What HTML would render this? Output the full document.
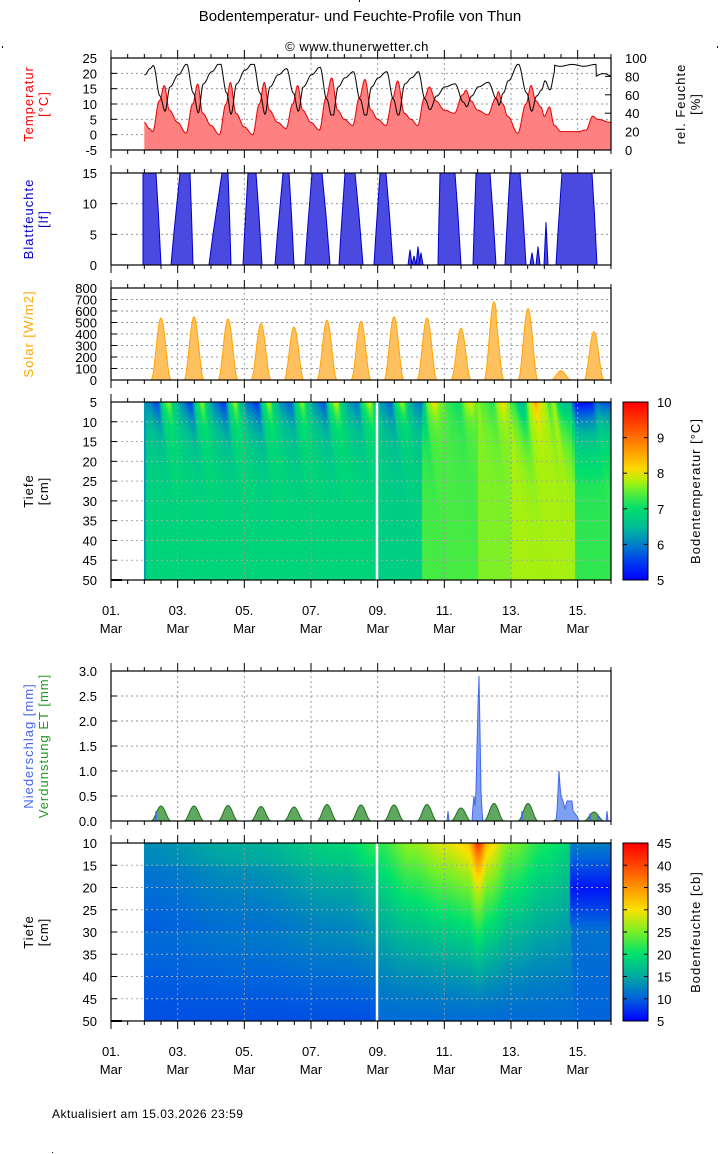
<!DOCTYPE html>
<html><head><meta charset="utf-8"><style>
body{margin:0;background:#fff;width:720px;height:1154px;position:relative;overflow:hidden;font-family:"Liberation Sans",sans-serif}
canvas{position:absolute}
svg{position:absolute;left:0;top:0}
</style></head><body>
<canvas id="c1" width="467" height="178" style="left:144px;top:402px"></canvas>
<canvas id="c2" width="467" height="178" style="left:144px;top:843px"></canvas>
<canvas id="cb1" width="25" height="178" style="left:623px;top:402px"></canvas>
<canvas id="cb2" width="25" height="178" style="left:623px;top:843px"></canvas>
<svg id="s" width="720" height="1154" xmlns="http://www.w3.org/2000/svg" font-family="Liberation Sans, sans-serif"></svg>
<script>
var X0=111,X1=611,DW=500/15;
function dx(d){return X0+(d-1)*DW;}
function xd(x){return 1+(x-X0)/DW;}
var S='';
function txt(x,y,t,o){o=o||{};S+='<text x="'+x+'" y="'+y+'" font-size="'+(o.fs||12)+'" fill="'+(o.c||'#000')+'" text-anchor="'+(o.a||'start')+'"'+(o.r?' transform="rotate(-90 '+x+' '+y+')"':'')+(o.ls?' letter-spacing="'+o.ls+'"':'')+'>'+t+'</text>';}
function line(x1,y1,x2,y2,c,w,da){S+='<line x1="'+x1+'" y1="'+y1+'" x2="'+x2+'" y2="'+y2+'" stroke="'+(c||'#000')+'" stroke-width="'+(w||1)+'"'+(da?' stroke-dasharray="'+da+'"':'')+'/>';}
function poly(pts,fill,stroke){S+='<polygon points="'+pts.map(p=>p[0].toFixed(1)+','+p[1].toFixed(1)).join(' ')+'" fill="'+fill+'" stroke="'+(stroke||'none')+'" stroke-width="1"/>';}
function pline(pts,c){S+='<polyline points="'+pts.map(p=>p[0].toFixed(1)+','+p[1].toFixed(1)).join(' ')+'" fill="none" stroke="'+c+'" stroke-width="1"/>';}
function frame(t,b,grid){
 if(grid){for(var d=3;d<=15;d+=2){line(dx(d),t,dx(d),b,'#999',1,'2,3');}}
 for(var k=0;k<=30;k++){var x=X0+k*DW/2;var L=(k%4==0)?8:4;line(x,b,x,b+L);line(x,t,x,t-L);}
}
function box(t,b){S+='<rect x="'+X0+'" y="'+t+'" width="500" height="'+(b-t)+'" fill="none" stroke="#000" stroke-width="1.2"/>';}
function yaxis(t,b,vals,fmt){for(var i=0;i<vals.length;i++){var y=t+(b-t)*i/(vals.length-1);if(i>0&&i<vals.length-1)line(X0,y,X1,y,'#999',1,'2,3');line(X0,y,X0+6,y);txt(97,y+5,fmt(vals[i]),{a:'end',fs:13});}}
function interp(arr,d){if(d<=arr[0][0])return arr[0][1];for(var i=1;i<arr.length;i++){if(d<=arr[i][0]){var a=arr[i-1],b=arr[i];var f=(d-a[0])/(b[0]-a[0]);f=(1-Math.cos(Math.PI*f))/2;return a[1]+(b[1]-a[1])*f;}}return arr[arr.length-1][1];}
var TA=[[2.0,4],[2.15,2],[2.25,1],[2.45,11],[2.6,16],[2.75,8],[3.0,4],[3.25,0.5],[3.45,10],[3.6,16.5],[3.75,7],[4.0,3],[4.25,0],[4.45,10],[4.58,17],[4.75,7],[5.0,2.5],[5.25,0],[5.45,10],[5.6,17],[5.75,8],[6.0,4],[6.25,2],[6.45,10],[6.6,16],[6.75,8],[7.0,4],[7.25,1.5],[7.45,12],[7.62,18.5],[7.8,8],[8.0,5],[8.25,3],[8.45,12],[8.62,18],[8.8,8],[9.0,5],[9.25,3],[9.45,12],[9.6,17.5],[9.8,7],[10.0,5],[10.2,3],[10.4,12],[10.55,15.5],[10.75,11],[11.0,8],[11.3,7],[11.55,13],[11.65,14.5],[11.8,11],[12.0,8],[12.3,6.5],[12.55,12],[12.62,14],[12.75,10],[12.9,6],[13.2,0.5],[13.45,10],[13.6,16],[13.75,11],[13.9,9],[14.0,6],[14.15,9],[14.3,3],[14.5,1],[15.0,1],[15.25,1.5],[15.45,6],[15.6,5],[16.0,4]];
function Tair(d){return interp(TA,d);}
txt(360,21,'Bodentemperatur- und Feuchte-Profile von Thun',{a:'middle',fs:15});
txt(357,51,'© www.thunerwetter.ch',{a:'middle',fs:13,ls:0.5});
S+='<rect x="359" y="0" width="1" height="2" fill="#000"/><rect x="2" y="46" width="1" height="2" fill="#000"/><rect x="717" y="46" width="1" height="2" fill="#000"/><rect x="52" y="1152" width="1" height="1" fill="#000"/>';
// Panel A
var tA=58,bA=150;
frame(tA,bA,true);yaxis(tA,bA,[25,20,15,10,5,0,-5],v=>v);
for(var i=0;i<=5;i++){var y=bA-(bA-tA)*i/5;line(X1-6,y,X1,y);txt(625,y+5,i*20,{fs:13});}
var pts=[[dx(2),bA]],hp=[];
for(var d=2;d<=16.001;d+=0.01){var T=Tair(d);pts.push([dx(d),bA-(T+5)/30*92]);var H=Math.max(38,Math.min(93,95-3.3*Tair(d-0.02)));if(d>14.3&&d<15.55)H=92+Math.sin(d*9);if(d>=15.55)H=80+3*Math.sin((d-15.55)*7);hp.push([dx(d),bA-H/100*92]);}
pts.push([dx(16),bA]);poly(pts,'#ff8080');pline(pts.slice(1,-1),'#e00000');pline(hp,'#000');
box(tA,bA);
txt(33,104,'Temperatur',{r:1,a:'middle',c:'#ff0000',fs:13,ls:1});txt(48,104,'[°C]',{r:1,a:'middle',c:'#ff0000',fs:13,ls:1});
txt(685,104,'rel. Feuchte',{r:1,a:'middle',fs:13,ls:1});txt(700,104,'[%]',{r:1,a:'middle',fs:13,ls:1});
// Panel B
var tB=173,bB=265;
frame(tB,bB,true);yaxis(tB,bB,[15,10,5,0],v=>v);
var LB=[[143,143,156,161],[171,180,190,193],[209,222,228,231],[243,248,256,262],[275,283,289,294],[305,312,322,330],[339,345,355,363],[374,380,386,393],[438,440,455,461],[473,476,490,496],[505,510,520,526],[556,562,592,597]];
LB.forEach(b=>{poly([[b[0],bB],[b[0]+(b[1]-b[0])*0.3,bB-30],[b[1],tB],[b[2],tB],[b[2]+(b[3]-b[2])*0.5,bB-50],[b[3],bB]],'#4a4ae0','#0000cc');});
[[410,2.5],[414,1.5],[418,3],[421,2],[532,2],[538,3],[546,7]].forEach(p=>poly([[p[0]-2,bB],[p[0],bB-p[1]/15*92],[p[0]+2,bB]],'#4a4ae0','#0000cc'));
box(tB,bB);
txt(33,219,'Blattfeuchte',{r:1,a:'middle',c:'#0000cc',fs:13,ls:1});txt(48,219,'[lf]',{r:1,a:'middle',c:'#0000cc',fs:13,ls:1});
// Panel C
var tC=288,bC=380;
frame(tC,bC,true);yaxis(tC,bC,[800,700,600,500,400,300,200,100,0],v=>v);
var SC=[161,194,228,261,294,327,361,394,427,461,494,528,561,594],SH=[540,550,530,490,460,520,510,550,540,450,680,620,80,420];
SC.forEach((c,i)=>{var p=[[c-10,bC]];for(var k=-10;k<=10;k+=0.5){var v=Math.pow(Math.cos(k/10*Math.PI/2),2)*SH[i];if(i==10&&k>2)v*=0.85;p.push([c+k,bC-v/800*92]);}p.push([c+10,bC]);poly(p,'#ffc060','#ffa500');});
box(tC,bC);
txt(33,334,'Solar [W/m2]',{r:1,a:'middle',c:'#ffa500',fs:13,ls:1});
// Panel D
var tD=402,bD=580;
frame(tD,bD,true);
for(var i=0;i<10;i++){var y=tD+(bD-tD)*i/9;line(X0,y,X1,y,'#aaa',1,'2,3');line(X0,y,X0+6,y);txt(97,y+5,5+5*i,{a:'end',fs:13});}
line(377,tD,377,bD,'#fff',2.5);
line(111,bD,122,bD,'#000',2);
box(tD,bD);
for(var i=0;i<=5;i++){var y=bD-(bD-tD)*i/5;line(623,y,627,y);line(644,y,648,y);txt(657,y+5,5+i,{fs:13});}
S+='<rect x="623" y="402" width="25" height="178" fill="none" stroke="#000"/>';
txt(33,491,'Tiefe',{r:1,a:'middle',fs:13,ls:1});txt(48,491,'[cm]',{r:1,a:'middle',fs:13,ls:1});
txt(700,491,'Bodentemperatur [°C]',{r:1,a:'middle',fs:13,ls:1});
function dates(y){for(var d=1;d<=15;d+=2){var x=dx(d);txt(x,y,(d<10?'0':'')+d+'.',{a:'middle',fs:13});txt(x,y+18,'Mar',{a:'middle',fs:13});}}
dates(615);
// Panel E
var tE=671,bE=821;
frame(tE,bE,true);yaxis(tE,bE,[3,2.5,2,1.5,1,0.5,0],v=>v.toFixed(1));
SC.forEach((c,i)=>{var h=[0.3,0.3,0.31,0.29,0.28,0.33,0.32,0.32,0.33,0.26,0.35,0.35,0.05,0.18][i];var p=[[c-10,bE]];for(var k=-10;k<=10;k+=0.5){p.push([c+k,bE-Math.pow(Math.cos(k/10*Math.PI/2),2)*h/3*150]);}p.push([c+10,bE]);poly(p,'#60a860','#207020');});
function rv(v){return bE-v/3*150;}
poly([[472,bE],[473,rv(0.3)],[474,rv(0.5)],[475,rv(0.3)],[476,rv(0.6)],[477,rv(1.5)],[478,rv(2.3)],[479,rv(2.9)],[480,rv(1.8)],[481,rv(0.6)],[482,rv(0.2)],[483,bE]],'#7f9ff0','#4466ee');
poly([[556,bE],[557,rv(0.2)],[558,rv(0.6)],[559,rv(1.0)],[560,rv(0.7)],[561,rv(0.5)],[563,rv(0.4)],[565,rv(0.25)],[567,rv(0.4)],[572,rv(0.4)],[573,rv(0.2)],[575,rv(0.15)],[577,rv(0.1)],[579,bE]],'#7f9ff0','#4466ee');
[[156,0.2],[448,0.2],[522,0.2],[590,0.15],[598,0.12],[607,0.2]].forEach(p=>poly([[p[0]-1,bE],[p[0],rv(p[1])],[p[0]+1,bE]],'#7f9ff0','#4466ee'));
box(tE,bE);
txt(33,746,'Niederschlag [mm]',{r:1,a:'middle',c:'#4466ee',fs:13,ls:1});txt(48,746,'Verdunstung ET [mm]',{r:1,a:'middle',c:'#229922',fs:13,ls:1});
// Panel F
var tF=843,bF=1021;
frame(tF,bF,true);
for(var i=0;i<9;i++){var y=tF+(bF-tF)*i/8;line(X0,y,X1,y,'#aaa',1,'2,3');line(X0,y,X0+6,y);txt(97,y+5,10+5*i,{a:'end',fs:13});}
line(377,tF,377,bF,'#fff',2.5);
line(111,bF,122,bF,'#000',2);
box(tF,bF);
for(var i=0;i<=8;i++){var y=bF-(bF-tF)*i/8;line(623,y,627,y);line(644,y,648,y);txt(657,y+5,5+5*i,{fs:13});}
S+='<rect x="623" y="843" width="25" height="178" fill="none" stroke="#000"/>';
txt(33,932,'Tiefe',{r:1,a:'middle',fs:13,ls:1});txt(48,932,'[cm]',{r:1,a:'middle',fs:13,ls:1});
txt(700,932,'Bodenfeuchte [cb]',{r:1,a:'middle',fs:13,ls:1});
dates(1056);
txt(52,1118,'Aktualisiert am 15.03.2026 23:59',{fs:12,ls:0.5});
document.getElementById('s').innerHTML=S;
function cmap(st,v){if(v<=st[0][0])return st[0][1];for(var i=1;i<st.length;i++){if(v<=st[i][0]){var a=st[i-1],b=st[i],f=(v-a[0])/(b[0]-a[0]);return [0,1,2].map(k=>a[1][k]+(b[1][k]-a[1][k])*f);}}return st[st.length-1][1];}
var CT=[[5,[0,0,255]],[5.5,[0,60,240]],[6,[0,130,200]],[6.5,[0,190,150]],[7,[0,222,110]],[7.5,[100,240,50]],[7.8,[180,240,10]],[8.1,[250,220,0]],[8.6,[255,160,0]],[9.2,[255,90,0]],[10,[255,0,0]]];
var CM=[[5,[0,0,255]],[10,[0,100,220]],[15,[0,170,160]],[20,[0,225,110]],[25,[120,240,40]],[30,[250,225,0]],[35,[255,150,0]],[40,[255,70,0]],[45,[255,0,0]]];
function draw(id,W,H,f,st){var c=document.getElementById(id).getContext('2d');var im=c.createImageData(W,H);for(var y=0;y<H;y++)for(var x=0;x<W;x++){var col=cmap(st,f(x,y));var o=(y*W+x)*4;im.data[o]=col[0];im.data[o+1]=col[1];im.data[o+2]=col[2];im.data[o+3]=255;}c.putImageData(im,0,0);}
function baseT(d){if(d<9)return 6.85;if(d<10.3)return 6.75;if(d<12)return 7.35;if(d<13)return 7.6;if(d<14.9)return 7.75;return 7.25;}
draw('c1',467,178,function(x,y){var d=xd(x+144),z=5+y/178*45;if(x<2)return 6.2;var a=Tair(d-0.12-0.015*(z-5))-9;var v=baseT(d)+(a>0?0.12*a*Math.exp(-(z-5)/4):0.16*a*Math.exp(-(z-5)/8));if(d>14.8&&z<25)v-=0.9*Math.exp(-(z-5)/8);return v;},CT);
function surfM(d){return interp([[2,13],[5,15.5],[8,19],[8.95,22],[9.05,22],[10,26],[11,29],[11.7,31],[12,36],[12.3,31],[13,25],[14,21],[14.7,19],[16,19]],d);}
draw('c2',467,178,function(x,y){var d=xd(x+144),z=10+y/178*40;var bd=14.75+0.15*Math.max(0,(z-25)/25);if(d>bd){return z<20?12-6*(z-10)/10:(z<30?6+5*(z-20)/10:11-(z-30)/20);}var deep=d<9?9:10.5;var s=surfM(d);var f=Math.pow(1-(z-10)/40,1.3);var v=deep+(s-deep)*f;if(d<9&&z>15&&z<30)v-=1;v+=5*Math.exp(-Math.pow((d-12)/0.2,2))*Math.exp(-(z-10)/4);return v;},CM);
draw('cb1',25,178,function(x,y){return 10-5*y/177;},CT);
draw('cb2',25,178,function(x,y){return 45-40*y/177;},CM);
</script>
</body></html>
